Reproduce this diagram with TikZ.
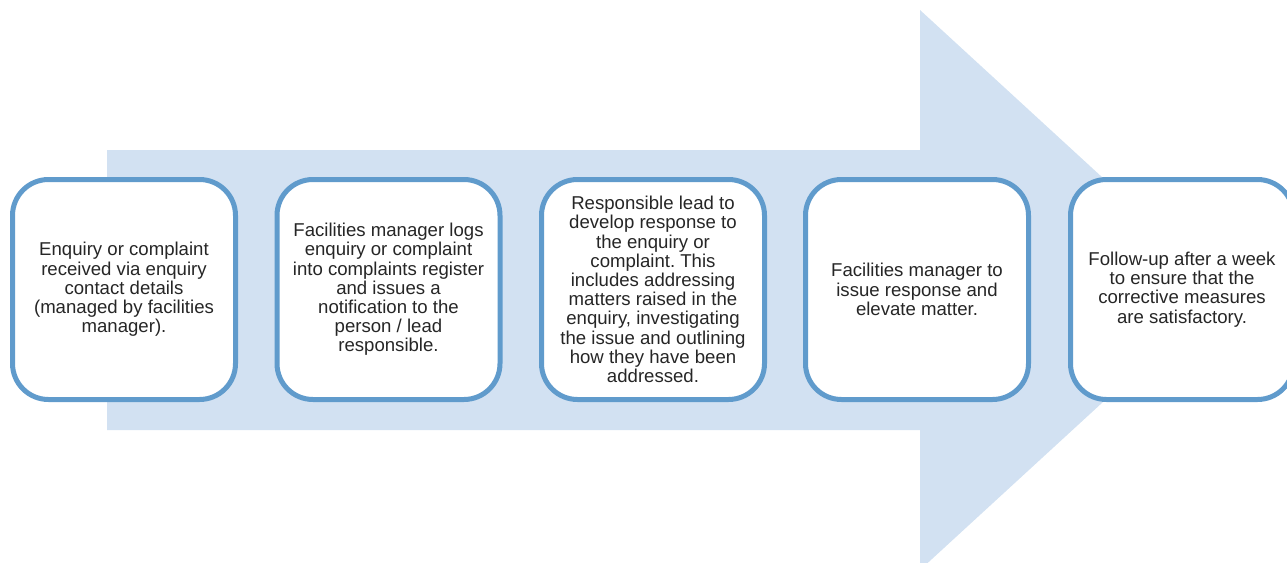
\documentclass[tikz,border=0pt]{standalone}
\usepackage{fontspec}
\setmainfont{Liberation Sans}
\usepackage{tikz}
\frenchspacing

\definecolor{arrowfill}{RGB}{210,225,242}
\definecolor{boxline}{RGB}{96,155,204}
\definecolor{boxtext}{RGB}{38,38,38}

\begin{document}
\begin{tikzpicture}[x=0.5pt,y=-0.5pt,
	stepbox/.style={draw=boxline, line width=2.5pt, fill=white, rounded corners=18pt,
		minimum width=111.5pt, minimum height=110pt, align=center, inner sep=0pt,
		text=boxtext, font=\fontsize{9.3}{9.6}\selectfont}]
	\useasboundingbox (0,0) rectangle (1287,563);
	% big arrow in the background
	\fill[arrowfill] (107,150) -- (920,150) -- (920,10) -- (1225,290) -- (920,570) -- (920,430) -- (107,430) -- cycle;
	
	\node[stepbox] (enquiry) at (124,289.5) {Enquiry or complaint\\received via enquiry\\contact details\\(managed by facilities\\manager).};
	\node[stepbox] (logs) at (388.5,289.5) {Facilities manager logs\\enquiry or complaint\\into complaints register\\and issues a\\notification to the\\person / lead\\responsible.};
	\node[stepbox] (develop) at (653,289.5) {Responsible lead to\\develop response to\\the enquiry or\\complaint. This\\includes addressing\\matters raised in the\\enquiry, investigating\\the issue and outlining\\how they have been\\addressed.};
	\node[stepbox] (issue) at (917,289.5) {Facilities manager to\\issue response and\\elevate matter.};
	\node[stepbox] (followup) at (1182,289.5) {Follow-up after a week\\to ensure that the\\corrective measures\\are satisfactory.};
\end{tikzpicture}
\end{document}
